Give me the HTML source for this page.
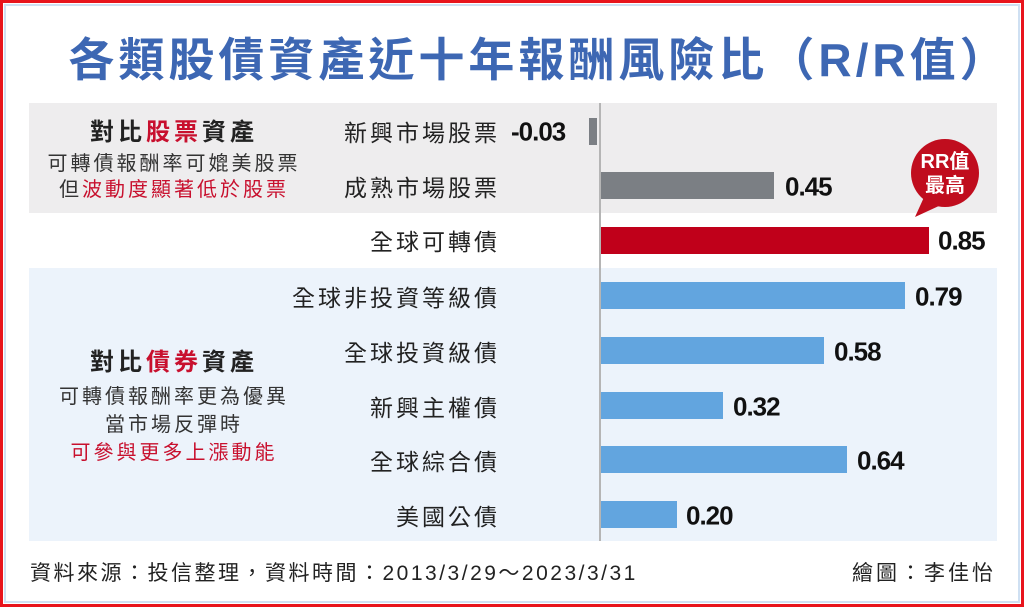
<!DOCTYPE html>
<html><head><meta charset="utf-8"><style>
*{margin:0;padding:0;box-sizing:border-box}
body{width:1024px;height:607px;background:#fff;position:relative;overflow:hidden;font-family:"Liberation Sans","Noto Sans CJK TC",sans-serif}
.a{position:absolute}
.lab{position:absolute;right:524px;font-size:23px;color:#222;white-space:nowrap;transform:translateY(-50%);letter-spacing:3px}
.val{position:absolute;font-size:26px;font-weight:bold;color:#111;transform:translateY(-50%);letter-spacing:-1px}
.bar{position:absolute;left:601px;height:27px}
.c{position:absolute;text-align:center;white-space:nowrap}
</style></head><body>
<div class="a" style="left:0;top:0;width:1024px;height:607px;border:3px solid #e8141c"></div>
<div class="a" style="left:4px;top:4px;width:1016px;height:599px;border:2px solid #cfe0f2"></div>
<div class="c" style="left:15px;width:1048px;top:24px;font-size:46px;font-weight:bold;color:#3d67b3;letter-spacing:4px">各類股債資產近十年報酬風險比（R/R值）</div>
<div class="a" style="left:29px;top:103px;width:968px;height:110px;background:#eeedee"></div>
<div class="a" style="left:29px;top:268px;width:968px;height:273px;background:#ecf3fb"></div>
<div class="a" style="left:599px;top:103px;width:2px;height:438px;background:#b5b5b5"></div>
<div class="c" style="left:29px;width:290px;top:112px;font-size:24px;font-weight:bold;color:#222;letter-spacing:4px">對比<span style="color:#c8102e">股票</span>資產</div>
<div class="c" style="left:29px;width:290px;top:151px;font-size:20px;color:#333;line-height:26px;letter-spacing:3px">可轉債報酬率可媲美股票<br>但<span style="color:#c8102e">波動度顯著低於股票</span></div>
<div class="c" style="left:29px;width:290px;top:342px;font-size:24px;font-weight:bold;color:#222;letter-spacing:4px">對比<span style="color:#c8102e">債券</span>資產</div>
<div class="c" style="left:29px;width:290px;top:383px;font-size:20px;color:#333;line-height:28px;letter-spacing:3px">可轉債報酬率更為優異<br>當市場反彈時<br><span style="color:#c8102e">可參與更多上漲動能</span></div>
<div class="lab" style="top:131px">新興市場股票</div>
<div class="lab" style="top:186px">成熟市場股票</div>
<div class="lab" style="top:240px">全球可轉債</div>
<div class="lab" style="top:296px">全球非投資等級債</div>
<div class="lab" style="top:351px">全球投資級債</div>
<div class="lab" style="top:406px">新興主權債</div>
<div class="lab" style="top:460px">全球綜合債</div>
<div class="lab" style="top:515px">美國公債</div>
<div class="a" style="left:589px;top:118px;width:8px;height:27px;background:#7b7f84"></div>
<div class="val" style="left:511px;top:132px">-0.03</div>
<div class="bar" style="top:172px;width:173px;background:#7b7f84"></div><div class="val" style="left:785px;top:187px">0.45</div>
<div class="bar" style="top:227px;width:328px;background:#c0001a"></div><div class="val" style="left:938px;top:241px">0.85</div>
<div class="bar" style="top:282px;width:304px;background:#62a5df"></div><div class="val" style="left:915px;top:297px">0.79</div>
<div class="bar" style="top:337px;width:223px;background:#62a5df"></div><div class="val" style="left:834px;top:352px">0.58</div>
<div class="bar" style="top:392px;width:122px;background:#62a5df"></div><div class="val" style="left:733px;top:407px">0.32</div>
<div class="bar" style="top:446px;width:246px;background:#62a5df"></div><div class="val" style="left:857px;top:461px">0.64</div>
<div class="bar" style="top:501px;width:76px;background:#62a5df"></div><div class="val" style="left:686px;top:516px">0.20</div>
<svg class="a" style="left:905px;top:133px" width="80" height="90"><circle cx="40" cy="40" r="34" fill="#c00d1e"/><path d="M20 62 L10 84 L36 72 Z" fill="#c00d1e"/></svg>
<div class="c" style="left:905px;width:80px;top:150px;font-size:20px;font-weight:bold;color:#fff;line-height:24px">RR值<br>最高</div>
<div class="a" style="left:30px;top:557px;font-size:21px;color:#222;white-space:nowrap;letter-spacing:2.5px">資料來源：投信整理，資料時間：2013/3/29～2023/3/31</div>
<div class="a" style="right:28px;top:557px;font-size:21px;color:#222;white-space:nowrap;letter-spacing:3px">繪圖：李佳怡</div>
</body></html>
